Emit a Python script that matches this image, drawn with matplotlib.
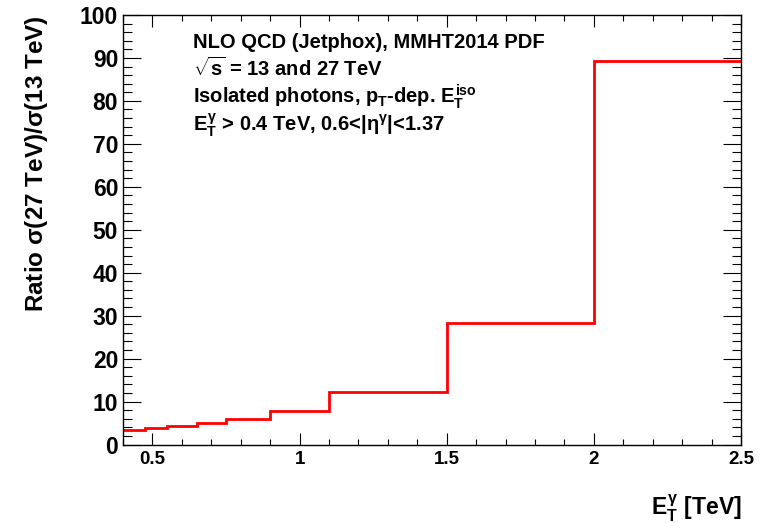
import numpy as np
import matplotlib
matplotlib.use("Agg")
import matplotlib.pyplot as plt
from matplotlib.ticker import MultipleLocator, FixedLocator

plt.rcParams["font.family"] = ["Liberation Sans", "DejaVu Sans"]
plt.rcParams["font.weight"] = "bold"
plt.rcParams["mathtext.fontset"] = "custom"
plt.rcParams["mathtext.rm"] = "Liberation Sans:bold"
plt.rcParams["mathtext.it"] = "Liberation Sans:bold"
plt.rcParams["mathtext.bf"] = "Liberation Sans:bold"
plt.rcParams["mathtext.sf"] = "Liberation Sans"

# Bin edges in E_T^gamma [TeV] and the 27/13 TeV cross-section ratio per bin
bin_edges = [0.4, 0.475, 0.55, 0.65, 0.75, 0.9, 1.1, 1.5, 2.0, 2.5]
ratio = [3.45, 3.8, 4.3, 4.95, 5.95, 7.9, 12.2, 28.2, 89.3]

x_ticks = [0.5, 1.0, 1.5, 2.0, 2.5]
x_tick_labels = ["0.5", "1", "1.5", "2", "2.5"]
y_ticks = [0, 10, 20, 30, 40, 50, 60, 70, 80, 90, 100]

annotation_lines = [
    "NLO QCD (Jetphox), MMHT2014 PDF",
    r"$\sqrt{s}$ = 13 and 27 TeV",
    r"Isolated photons, $p_{T}$-dep. $E_{T}^{iso}$",
    r"$E_{T}^{\mathsf{\gamma}}$ > 0.4 TeV, 0.6<|$\mathsf{\eta}^{\mathsf{\gamma}}$|<1.37",
]

W, H = 762, 523
fig = plt.figure(figsize=(W / 100, H / 100), dpi=100)
ax = fig.add_axes([123 / W, 1 - 444.5 / H, (741 - 123) / W, (444.5 - 15) / H])

ax.stairs(ratio, bin_edges, color="#ff0000", linewidth=2.0, baseline=None)

ax.set_xlim(0.4, 2.5)
ax.set_ylim(0, 100)

ax.xaxis.set_major_locator(FixedLocator(x_ticks))
ax.set_xticklabels(x_tick_labels)
ax.xaxis.set_minor_locator(MultipleLocator(0.1))
ax.yaxis.set_major_locator(FixedLocator(y_ticks))
ax.yaxis.set_minor_locator(MultipleLocator(2))

for s in ax.spines.values():
    s.set_linewidth(1.0)

ax.tick_params(axis="both", which="both", direction="in", top=True, right=True, width=0.8)
ax.tick_params(axis="x", which="major", length=8.6, labelsize=13.5, pad=4.5)
ax.tick_params(axis="x", which="minor", length=4.5)
ax.tick_params(axis="y", which="major", length=13, labelsize=16.5, pad=3.5)
ax.tick_params(axis="y", which="minor", length=6.7)
for lab in ax.get_xticklabels() + ax.get_yticklabels():
    lab.set_fontweight("bold")

fig.text(37 / W, 1 - 164 / H, r"Ratio $\mathsf{\sigma}$(27 TeV)/$\mathsf{\sigma}$(13 TeV)",
         rotation=90, ha="center", va="center", fontsize=17.5, fontweight="bold")
fig.text(742 / W, 1 - 515 / H, r"$E_{T}^{\mathsf{\gamma}}$ [TeV]",
         ha="right", va="baseline", fontsize=16.5, fontweight="bold")

line_y = [48, 76, 103, 131]
for txt, yb in zip(annotation_lines, line_y):
    fig.text(193 / W, 1 - yb / H, txt, ha="left", va="baseline",
             fontsize=14.5, fontweight="bold")

fig.savefig("out.png", dpi=100)
